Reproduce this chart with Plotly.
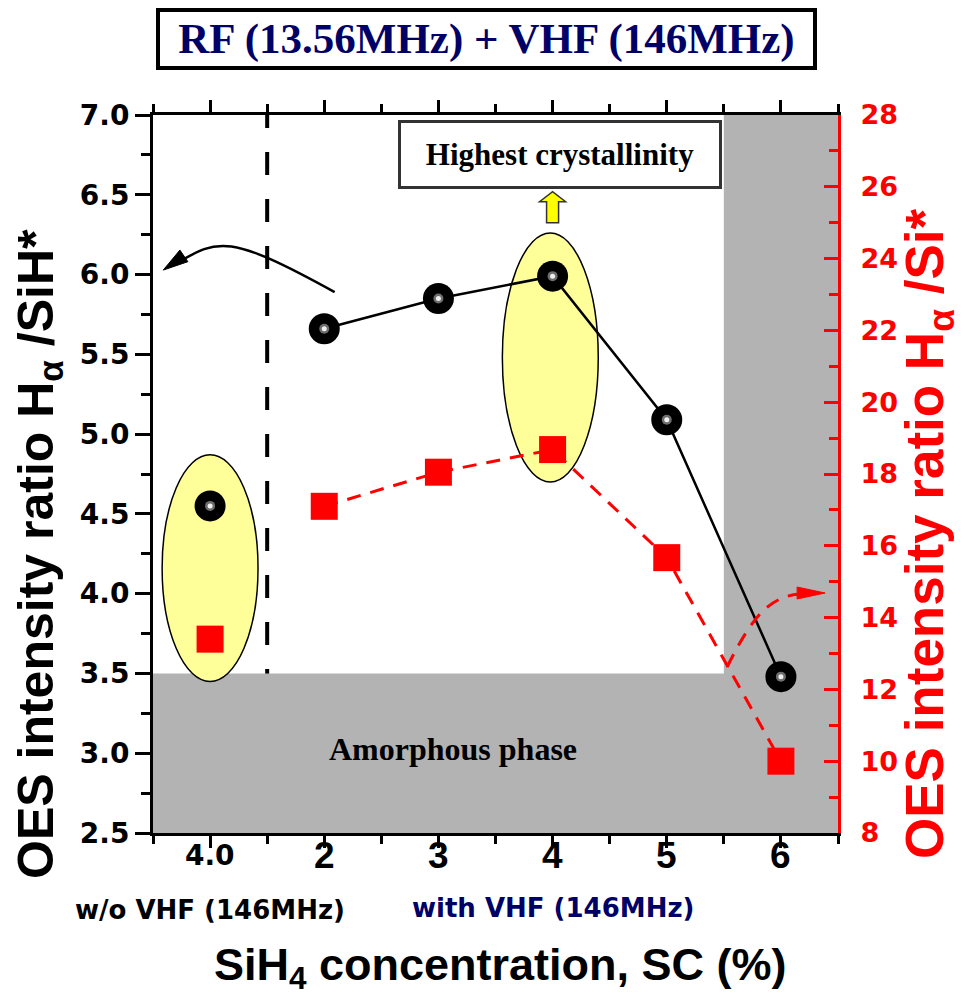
import plotly.graph_objects as go

# ---- data ----
x_pos = [0, 1, 2, 3, 4, 5]
x_labels = ["4.0", "2", "3", "4", "5", "6"]
ratio_h_sih = [4.55, 5.66, 5.85, 5.99, 5.09, 3.48]      # left axis (black spheres)
ratio_h_si = [13.4, 17.1, 18.05, 18.68, 15.67, 10.0]   # right axis (red squares)
y_left_ticks = [2.5, 3.0, 3.5, 4.0, 4.5, 5.0, 5.5, 6.0, 6.5, 7.0]
y_right_ticks = [8, 10, 12, 14, 16, 18, 20, 22, 24, 26, 28]
x_minor_ticks = [-0.5, 0.5, 1.5, 2.5, 3.5, 4.5, 5.5]

NAVY = "#000066"
GRAY = "#b3b3b3"
YEL = "#ffff99"
SANS = "Liberation Sans"

fig = go.Figure()

# connecting lines (with VHF only)
fig.add_trace(go.Scatter(x=x_pos[1:], y=ratio_h_si[1:], yaxis="y2", mode="lines",
                         line=dict(color="red", width=3, dash="14px,10px"),
                         hoverinfo="skip", showlegend=False))
fig.add_trace(go.Scatter(x=x_pos[1:], y=ratio_h_sih[1:], mode="lines",
                         line=dict(color="black", width=2.5),
                         hoverinfo="skip", showlegend=False))
# markers
fig.add_trace(go.Scatter(x=x_pos, y=ratio_h_si, yaxis="y2", mode="markers",
                         marker=dict(symbol="square", size=27, color="red",
                                     line=dict(width=0)),
                         showlegend=False))
fig.add_trace(go.Scatter(x=x_pos, y=ratio_h_sih, mode="markers",
                         marker=dict(symbol="circle", size=31, color="black",
                                     line=dict(width=0)),
                         showlegend=False))
fig.add_trace(go.Scatter(x=x_pos, y=ratio_h_sih, mode="markers",
                         marker=dict(symbol="circle", size=10, color="#6e6e6e",
                                     line=dict(width=0)),
                         hoverinfo="skip", showlegend=False))
fig.add_trace(go.Scatter(x=x_pos, y=ratio_h_sih, mode="markers",
                         marker=dict(symbol="circle", size=5, color="#f0f0f0",
                                     line=dict(width=0)),
                         hoverinfo="skip", showlegend=False))

shapes = [
    # gray regions
    dict(type="rect", xref="x", yref="y", x0=-0.5, x1=5.5, y0=2.5, y1=3.5,
         fillcolor=GRAY, line=dict(width=0), layer="below"),
    dict(type="rect", xref="x", yref="y", x0=4.5, x1=5.5, y0=2.5, y1=7.0,
         fillcolor=GRAY, line=dict(width=0), layer="below"),
    # yellow ellipses
    dict(type="circle", xref="x", yref="y", x0=-0.42, x1=0.42, y0=3.45, y1=4.87,
         fillcolor=YEL, line=dict(color="black", width=1.5), layer="below"),
    dict(type="circle", xref="x", yref="y", x0=2.56, x1=3.40, y0=4.70, y1=6.26,
         fillcolor=YEL, line=dict(color="black", width=1.5), layer="below"),
    # dashed separator
    dict(type="line", xref="x", yref="paper", x0=0.5, x1=0.5, y0=0, y1=1,
         line=dict(color="black", width=4, dash="23px,24px"), layer="below"),
    # black curved arrow
    dict(type="path", xref="x", yref="y",
         path="M 1.091,5.890 C 0.131,6.269 0.070,6.221 -0.323,6.059",
         line=dict(color="black", width=2.5)),
    dict(type="path", xref="x", yref="y", xsizemode="pixel", ysizemode="pixel",
         xanchor=-0.41, yanchor=6.028,
         path="M 0,0 L 24.6,8.4 L 16.6,20.0 Z",
         fillcolor="black", line=dict(color="black", width=1)),
    # red curved dashed arrow
    dict(type="path", xref="x", yref="y2",
         path="M 4.529,12.624 C 4.747,14.017 4.895,14.574 5.161,14.657",
         line=dict(color="red", width=3, dash="14px,10px")),
    dict(type="path", xref="x", yref="y2", xsizemode="pixel", ysizemode="pixel",
         xanchor=5.387, yanchor=14.685,
         path="M 0,0 L -28,6 L -28,-6 Z",
         fillcolor="red", line=dict(color="red", width=1)),
    # yellow block arrow
    dict(type="path", xref="x", yref="y", xsizemode="pixel", ysizemode="pixel",
         xanchor=3, yanchor=6.422,
         path="M -6,-15.5 L 6,-15.5 L 6,5.5 L 13,5.5 L 0,15.5 L -13,5.5 L -6,5.5 Z",
         fillcolor="#ffff00", line=dict(color="#333333", width=1.5)),
]

annotations = [
    # title box
    dict(xref="paper", yref="paper", x=0.487, y=1.106, xanchor="center", yanchor="middle",
         text="<b>RF (13.56MHz) + VHF (146MHz)</b>", showarrow=False,
         font=dict(family="Liberation Serif", size=43, color=NAVY),
         bordercolor="black", borderwidth=4, borderpad=0, bgcolor="white",
         width=653, height=54),
    # Highest crystallinity box
    dict(xref="x", yref="y", x=3.063, y=6.754, xanchor="center", yanchor="middle",
         text="<b>Highest crystallinity</b>", showarrow=False,
         font=dict(family="Liberation Serif", size=31, color="black"),
         bordercolor="#333333", borderwidth=3, borderpad=0, bgcolor="white",
         width=318, height=63),
    dict(xref="x", yref="y", x=2.13, y=3.026, xanchor="center", yanchor="middle",
         text="<b>Amorphous phase</b>", showarrow=False,
         font=dict(family="Liberation Serif", size=32, color="black")),
    # axis titles
    dict(xref="paper", yref="paper", x=-0.166, y=0.389, xanchor="center", yanchor="middle",
         textangle=-90, showarrow=False,
         text="<b>OES intensity ratio H<sub>α</sub> /SiH*</b>",
         font=dict(family=SANS, size=50, color="black")),
    dict(xref="paper", yref="paper", x=1.132, y=0.417, xanchor="center", yanchor="middle",
         textangle=-90, showarrow=False,
         text="<b>OES intensity ratio H<sub>α</sub> /Si*</b>",
         font=dict(family=SANS, size=53, color="red")),
    dict(xref="paper", yref="paper", x=0.507, y=-0.187, xanchor="center", yanchor="middle",
         showarrow=False, text="<b>SiH<sub>4</sub> concentration, SC (%)</b>",
         font=dict(family=SANS, size=45, color="black")),
    # group labels
    dict(xref="x", yref="paper", x=x_pos[0], y=-0.107, xanchor="center", yanchor="middle",
         showarrow=False, text="<b>w/o VHF (146MHz)</b>",
         font=dict(family="DejaVu Sans", size=26, color="black")),
    dict(xref="x", yref="paper", x=x_pos[3], y=-0.104, xanchor="center", yanchor="middle",
         showarrow=False, text="<b>with VHF (146MHz)</b>",
         font=dict(family="DejaVu Sans", size=26, color=NAVY)),
]
# x tick labels
for i, (xp, lab) in enumerate(zip(x_pos, x_labels)):
    if i == 0:
        f = dict(family="DejaVu Sans", size=28, color="black")
    else:
        f = dict(family=SANS, size=37, color="black")
    annotations.append(dict(xref="x", yref="paper", x=xp, y=-0.032, xanchor="center",
                            yanchor="middle", showarrow=False, text="<b>%s</b>" % lab, font=f))

fig.update_layout(
    width=957, height=999,
    margin=dict(l=145, r=127, t=107, b=174),
    paper_bgcolor="white", plot_bgcolor="white",
    showlegend=False,
    shapes=shapes, annotations=annotations,
    xaxis=dict(range=[-0.5, 5.5], showgrid=False, zeroline=False,
               showline=True, linecolor="black", linewidth=3, mirror="ticks",
               tickmode="array", tickvals=x_pos, showticklabels=False,
               ticks="outside", ticklen=12, tickwidth=3, tickcolor="black",
               minor=dict(tickmode="array", tickvals=x_minor_ticks, ticks="outside",
                          ticklen=8, tickwidth=3, tickcolor="black")),
    yaxis=dict(range=[2.5, 7.0], showgrid=False, zeroline=False,
               showline=True, linecolor="black", linewidth=3,
               tickmode="array", tickvals=y_left_ticks,
               ticktext=["%.1f" % v for v in y_left_ticks],
               ticks="outside", ticklen=15, tickwidth=3, tickcolor="black",
               tickfont=dict(family="DejaVu Sans", size=28, color="black", weight="bold"),
               minor=dict(dtick=0.25, tick0=2.5, ticks="outside", ticklen=9,
                          tickwidth=3, tickcolor="black")),
    yaxis2=dict(range=[8, 28], overlaying="y", side="right", showgrid=False,
                zeroline=False, showline=True, linecolor="red", linewidth=3,
                tickmode="array", tickvals=y_right_ticks,
                ticks="inside", ticklen=14, tickwidth=3, tickcolor="red",
                ticklabelstandoff=14,
                tickfont=dict(family="DejaVu Sans", size=27, color="red", weight="bold"),
                minor=dict(dtick=1, tick0=8, ticks="inside", ticklen=9,
                           tickwidth=3, tickcolor="red")),
)

fig.write_html("out.html")
